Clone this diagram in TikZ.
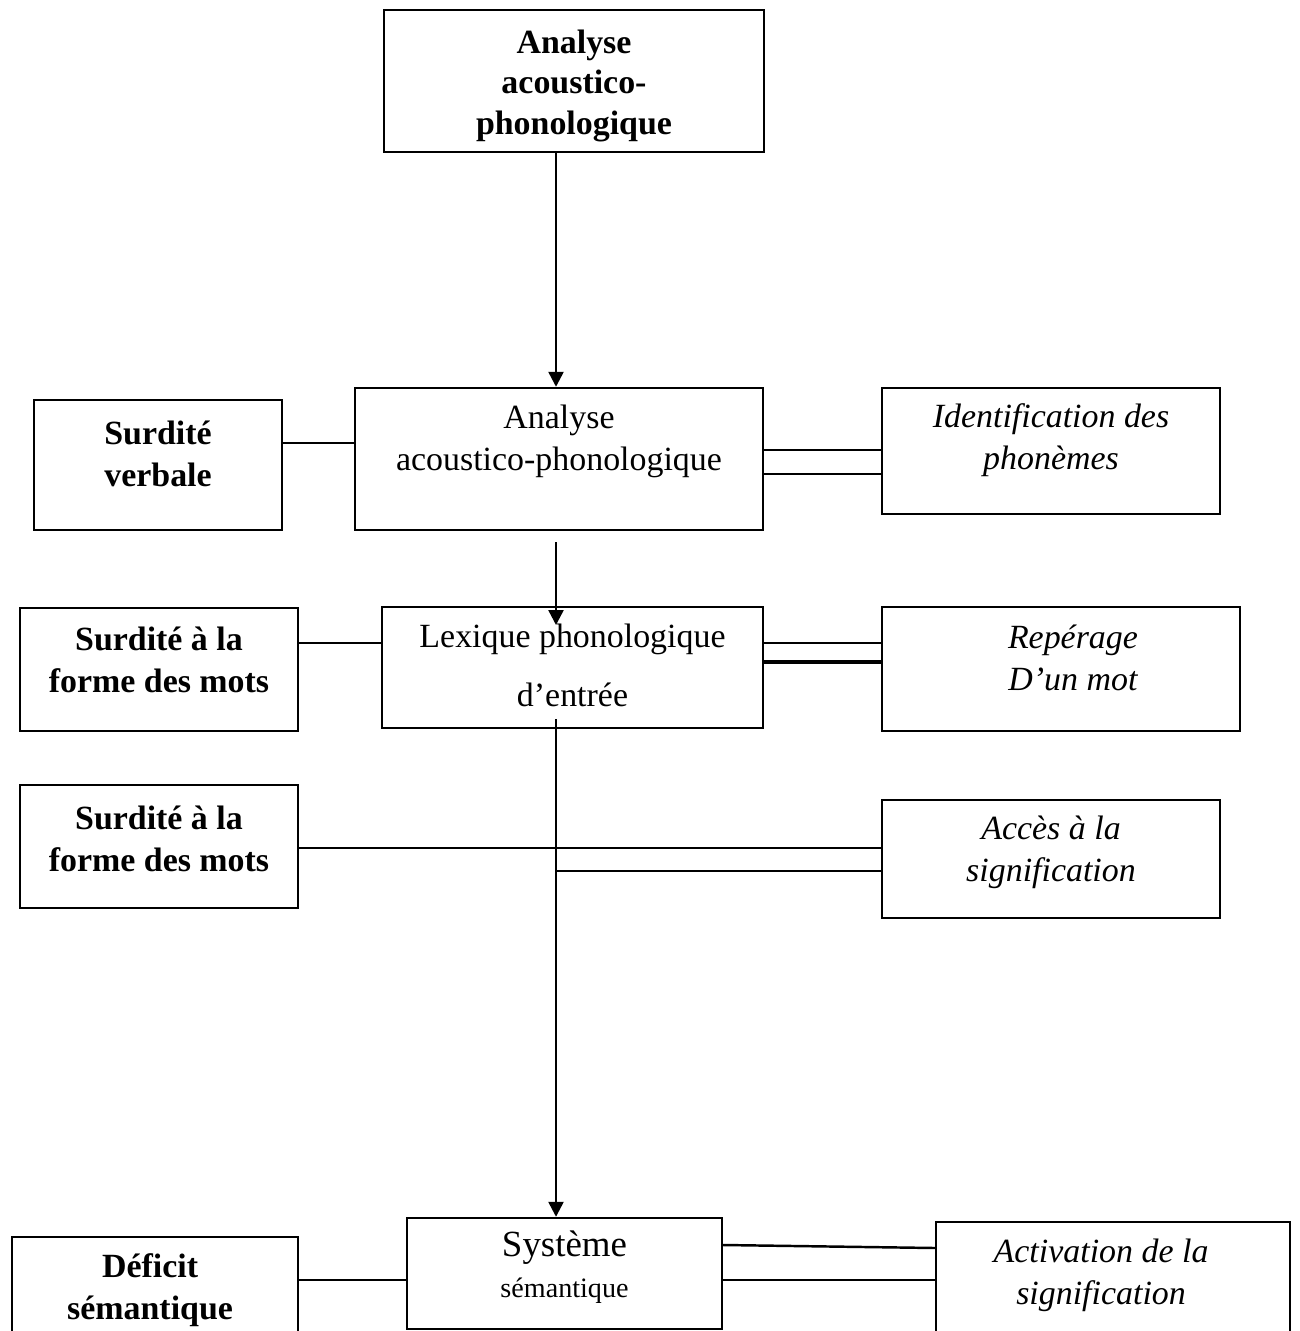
\documentclass[tikz,border=0pt]{standalone}
\usepackage{fontspec}
\setmainfont{Liberation Serif}
\usetikzlibrary{arrows.meta, positioning}

\begin{document}
\begin{tikzpicture}[x=0.02cm, y=-0.02cm, >={Triangle[length=8.5pt, width=8.5pt]}]
    \tikzset{
        box/.style={draw, line width=1.4pt, inner sep=0pt},
        txt/.style={align=center, font=\fontsize{19.3}{23.9}\selectfont},
        bftxt/.style={txt, font=\fontsize{19.3}{23.9}\selectfont\bfseries},
        ittxt/.style={txt, font=\fontsize{19.3}{23.9}\selectfont\itshape},
        link/.style={line width=1.4pt},
        arr/.style={line width=1.4pt, ->},
    }
    \clip (0,0) rectangle (1299,1331);

    % top
    \node[box, minimum width=7.6cm, minimum height=2.84cm,
          label={[bftxt, font=\fontsize{19.3}{23.3}\selectfont\bfseries, yshift=-2.8pt]center:{Analyse\\acoustico-\\phonologique}}] (ana1) at (574,81) {};

    % row 1
    \node[box, minimum width=4.96cm, minimum height=2.6cm,
          label={[bftxt, yshift=6.3pt]center:{Surdité\\verbale}}] (sv) at (158,465) {};
    \node[box, minimum width=8.16cm, minimum height=2.84cm,
          label={[txt, yshift=10.2pt]center:{Analyse\\acoustico-phonologique}}] (ana2) at (559,459) {};
    \node[box, minimum width=6.76cm, minimum height=2.52cm,
          label={[ittxt, yshift=6.3pt]center:{Identification des\\phonèmes}}] (idph) at (1051,451) {};

    % row 2
    \node[box, minimum width=5.56cm, minimum height=2.46cm,
          label={[bftxt, yshift=5.7pt]center:{Surdité à la\\forme des mots}}] (sfm1) at (159,669.5) {};
    \node[box, minimum width=7.62cm, minimum height=2.42cm,
          label={[txt, font=\fontsize{19.3}{33.6}\selectfont, yshift=1.1pt]center:{Lexique phonologique\\d’entrée}}] (lex) at (572.5,667.5) {};
    \node[box, minimum width=7.16cm, minimum height=2.48cm,
          label={[ittxt, yshift=6.3pt, xshift=6.8pt]center:{Repérage\\D’un mot}}] (rep) at (1061,669) {};

    % row 3
    \node[box, minimum width=5.56cm, minimum height=2.46cm,
          label={[bftxt, yshift=4.3pt]center:{Surdité à la\\forme des mots}}] (sfm2) at (159,846.5) {};
    \node[box, minimum width=6.76cm, minimum height=2.36cm,
          label={[ittxt, yshift=3.7pt]center:{Accès à la\\signification}}] (acc) at (1051,859) {};

    % row 4
    \node[box, minimum width=5.72cm, minimum height=2.46cm,
          label={[bftxt, yshift=4.8pt, xshift=-2.8pt]center:{Déficit\\sémantique}}] (def) at (155,1298.5) {};
    \node[box, minimum width=6.3cm, minimum height=2.22cm,
          label={[txt, font=\fontsize{16}{23.3}\selectfont, yshift=3.4pt]center:{{\fontsize{21}{23.3}\selectfont Système}\\sémantique}}] (sys) at (564.5,1273.5) {};
    \node[box, minimum width=7.08cm, minimum height=2.46cm,
          label={[ittxt, yshift=4.8pt, xshift=-6.8pt]center:{Activation de la\\signification}}] (act) at (1113,1283.5) {};

    % levels of the links
    \coordinate (ax) at (556,0);
    \coordinate (l1) at (0,443);
    \coordinate (l2) at (0,450);
    \coordinate (l3) at (0,474);
    \coordinate (l4) at (0,643);
    \coordinate (l5) at (0,662);
    \coordinate (l6) at (0,848);
    \coordinate (l7) at (0,871);
    \coordinate (l8) at (0,1280);
    \coordinate (l9) at (0,1245);
    \coordinate (l10) at (0,1248);
    \coordinate (g1) at (556,542);
    \coordinate (g2) at (556,625);
    \coordinate (g3) at (556,719);

    % vertical arrows
    \draw[arr] (ana1.south -| ax) -- (ana2.north -| ax);
    \draw[arr] (g1) -- (g2);
    \draw[arr] (g3) -- (sys.north -| ax);

    % side links
    \draw[link] (sv.east |- l1) -- (ana2.west |- l1);
    \draw[link] (ana2.east |- l2) -- (idph.west |- l2);
    \draw[link] (ana2.east |- l3) -- (idph.west |- l3);

    \draw[link] (sfm1.east |- l4) -- (lex.west |- l4);
    \draw[link] (lex.east |- l4) -- (rep.west |- l4);
    \draw[link, line width=2.8pt] (lex.east |- l5) -- (rep.west |- l5);

    \draw[link] (sfm2.east |- l6) -- (acc.west |- l6);
    \draw[link] (ax |- l7) -- (acc.west |- l7);

    \draw[link] (def.east |- l8) -- (sys.west |- l8);
    \draw[link] (sys.east |- l9) -- (act.west |- l10);
    \draw[link] (sys.east |- l8) -- (act.west |- l8);
\end{tikzpicture}
\end{document}
